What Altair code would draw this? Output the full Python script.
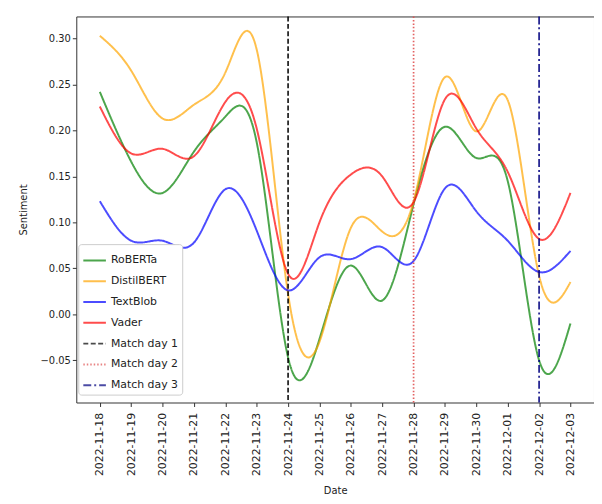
import altair as alt
import pandas as pd

dates = ["2022-11-18", "2022-11-19", "2022-11-20", "2022-11-21", "2022-11-22",
         "2022-11-23", "2022-11-24", "2022-11-25", "2022-11-26", "2022-11-27",
         "2022-11-28", "2022-11-29", "2022-11-30", "2022-12-01", "2022-12-02",
         "2022-12-03"]

roberta = [0.242, 0.166, 0.132, 0.177, 0.215, 0.187, -0.047, -0.027, 0.053, 0.015,
           0.120, 0.204, 0.170, 0.145, -0.050, -0.010]
distilbert = [0.303, 0.265, 0.213, 0.228, 0.263, 0.288, 0.022, -0.030, 0.094, 0.090,
              0.123, 0.258, 0.199, 0.233, 0.042, 0.035]
textblob = [0.123, 0.080, 0.080, 0.078, 0.136, 0.091, 0.026, 0.062, 0.060, 0.073,
            0.058, 0.137, 0.112, 0.080, 0.046, 0.069]
vader = [0.226, 0.175, 0.180, 0.172, 0.231, 0.202, 0.044, 0.100, 0.152, 0.150,
         0.122, 0.234, 0.202, 0.155, 0.082, 0.132]

series_names = ["RoBERTa", "DistilBERT", "TextBlob", "Vader"]
series_values = [roberta, distilbert, textblob, vader]

match_names = ["Match day 1", "Match day 2", "Match day 3"]
match_dates = ["2022-11-24", "2022-11-28", "2022-12-02"]

legend_order = series_names + match_names
colors = ["green", "orange", "blue", "red", "black", "#e05050", "navy"]
dashes = [[1, 0], [1, 0], [1, 0], [1, 0], [5, 2.5], [1.5, 2], [8, 3, 2, 3]]

rows = []
for name, vals in zip(series_names, series_values):
    for i, (d, v) in enumerate(zip(dates, vals)):
        rows.append({"idx": i, "date": d, "series": name, "value": v})
lines_df = pd.DataFrame(rows)

rules_df = pd.DataFrame({
    "idx": [dates.index(d) for d in match_dates],
    "series": match_names,
})

label_expr = "[" + ",".join("'%s'" % d for d in dates) + "][datum.value]"

x_enc = alt.X(
    "idx:Q",
    scale=alt.Scale(domain=[-0.75, len(dates) - 0.25], nice=False, zero=False),
    axis=alt.Axis(
        values=list(range(len(dates))),
        labelExpr=label_expr,
        labelAngle=270,
        labelAlign="right",
        labelBaseline="middle",
        labelFontSize=11,
        labelPadding=6,
        title="Date",
        titlePadding=10,
    ),
)

color_enc = alt.Color(
    "series:N",
    scale=alt.Scale(domain=legend_order, range=colors),
    sort=legend_order,
    legend=alt.Legend(
        title=None,
        orient="none",
        legendX=2,
        legendY=230,
        fillColor="white",
        strokeColor="#cccccc",
        cornerRadius=3,
        padding=4,
        labelFontSize=11,
        symbolType="stroke",
        symbolStrokeWidth=2,
        symbolSize=520,
        rowPadding=3,
        labelLimit=200,
    ),
)
dash_enc = alt.StrokeDash(
    "series:N",
    scale=alt.Scale(domain=legend_order, range=dashes),
    sort=legend_order,
    legend=alt.Legend(title=None),
)

y_enc = alt.Y(
    "value:Q",
    scale=alt.Scale(domain=[-0.096, 0.324], nice=False, zero=False),
    axis=alt.Axis(
        values=[-0.05, 0.0, 0.05, 0.10, 0.15, 0.20, 0.25, 0.30],
        format=".2f",
        title="Sentiment",
        titlePadding=12,
        labelFontSize=10,
    ),
)

lines = alt.Chart(lines_df).mark_line(
    interpolate="natural", strokeWidth=2, opacity=0.7
).encode(x=x_enc, y=y_enc, color=color_enc, strokeDash=dash_enc,
         detail="series:N")

rules = alt.Chart(rules_df).mark_rule(strokeWidth=1.7, opacity=0.9).encode(
    x=x_enc, color=color_enc, strokeDash=dash_enc
)

chart = alt.layer(lines, rules).properties(
    width=523,
    height=390,
    autosize=alt.AutoSizeParams(type="none"),
    padding={"left": 69, "top": 6, "right": 0, "bottom": 104},
).configure_view(
    stroke="#333333", strokeWidth=1
).configure_axis(
    grid=False,
    domain=False,
    tickColor="#333333",
    tickSize=4,
    labelColor="#222222",
    titleColor="#222222",
    titleFontWeight="normal",
    titleFontSize=10,
    labelFont="DejaVu Sans",
    titleFont="DejaVu Sans",
).configure_legend(
    labelFont="DejaVu Sans",
    labelColor="#222222",
)

chart.save("out.html", embed_options={"renderer": "svg", "actions": False})
